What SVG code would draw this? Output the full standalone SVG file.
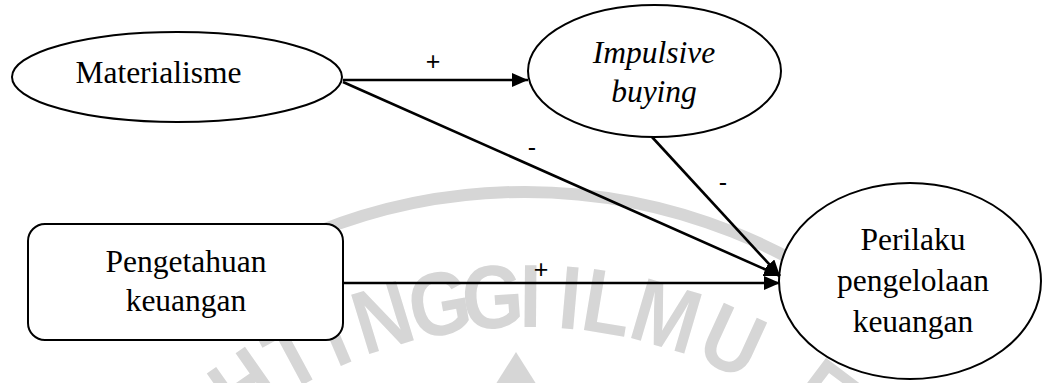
<svg xmlns="http://www.w3.org/2000/svg" width="1043" height="383" viewBox="0 0 1043 383">
  <style>
    .node { fill: #ffffff; stroke: #000000; stroke-width: 2; }
    .lbl { font-family: 'Liberation Serif', Tinos, 'Times New Roman', Times, serif; font-size: 31.5px; fill: #000000; text-anchor: middle; }
    .it { font-style: italic; }
    .edge { stroke: #000000; stroke-width: 2.6; fill: none; marker-end: url(#arrow); }
    .sign { font-family: 'Liberation Sans', Arial, sans-serif; font-size: 25px; fill: #000000; text-anchor: middle; }
    .wm { font-family: 'Liberation Sans', Arial, sans-serif; font-weight: bold; font-size: 90px; fill: #d6d6d6; text-anchor: middle; }
  </style>
  <defs>
    <marker id="arrow" viewBox="0 0 16 14" refX="16" refY="7" markerWidth="16" markerHeight="14" markerUnits="userSpaceOnUse" orient="auto">
      <path d="M0,0 L16,7 L0,14 z" fill="#000000"/>
    </marker>
  </defs>

  <rect width="1043" height="383" fill="#ffffff"/>

  <!-- faint background seal: ring and lettering -->
  <g id="watermark">
    <path d="M150,336 A560,560 0 0 1 900,336" fill="none" stroke="#d6d6d6" stroke-width="12"/>
    <polygon points="516,352 492,390 540,390" fill="#d6d6d6"/>
    <text class="wm" transform="rotate(-35 527 790) translate(527 327) scale(0.88 1)">H</text>
    <text class="wm" transform="rotate(-28.3 527 790) translate(527 327) scale(0.88 1)">T</text>
    <text class="wm" transform="rotate(-23 527 790) translate(527 327) scale(0.88 1)">I</text>
    <text class="wm" transform="rotate(-17 527 790) translate(527 327) scale(0.88 1)">N</text>
    <text class="wm" transform="rotate(-10.2 527 790) translate(527 327) scale(0.88 1)">G</text>
    <text class="wm" transform="rotate(-4 527 790) translate(527 327) scale(0.88 1)">G</text>
    <text class="wm" transform="rotate(0.4 527 790) translate(527 327) scale(0.88 1)">I</text>
    <text class="wm" transform="rotate(5 527 790) translate(527 327) scale(0.88 1)">I</text>
    <text class="wm" transform="rotate(9.4 527 790) translate(527 327) scale(0.88 1)">L</text>
    <text class="wm" transform="rotate(16.4 527 790) translate(527 327) scale(0.88 1)">M</text>
    <text class="wm" transform="rotate(24.6 527 790) translate(527 327) scale(0.88 1)">U</text>
    <text class="wm" transform="rotate(37 527 790) translate(527 327) scale(0.88 1)">E</text>
  </g>

  <!-- nodes -->
  <g id="materialisme">
    <ellipse class="node" cx="177" cy="77" rx="165" ry="45"/>
    <text class="lbl" x="158.5" y="83">Materialisme</text>
  </g>
  <g id="impulsive-buying">
    <ellipse class="node" cx="654.5" cy="71" rx="126.5" ry="66"/>
    <text class="lbl it" x="654" y="63">Impulsive</text>
    <text class="lbl it" x="654" y="102">buying</text>
  </g>
  <g id="pengetahuan-keuangan">
    <rect class="node" x="28" y="224" width="315" height="116" rx="17" ry="17"/>
    <text class="lbl" x="186" y="272">Pengetahuan</text>
    <text class="lbl" x="186" y="311">keuangan</text>
  </g>
  <g id="perilaku-pengelolaan-keuangan">
    <ellipse class="node" cx="910" cy="281" rx="131" ry="98"/>
    <text class="lbl" x="913" y="250">Perilaku</text>
    <text class="lbl" x="913" y="291">pengelolaan</text>
    <text class="lbl" x="913" y="332">keuangan</text>
  </g>

  <!-- connectors -->
  <g id="connectors">
    <line class="edge" x1="343" y1="80" x2="528" y2="80"/>
    <line class="edge" x1="343" y1="82" x2="780" y2="276"/>
    <line class="edge" x1="652" y1="137" x2="780" y2="276"/>
    <line class="edge" x1="343" y1="283" x2="780" y2="283"/>
    <text class="sign" x="433" y="70">+</text>
    <text class="sign" x="532" y="156">-</text>
    <text class="sign" x="723" y="191">-</text>
    <text class="sign" x="541" y="278">+</text>
  </g>
</svg>
